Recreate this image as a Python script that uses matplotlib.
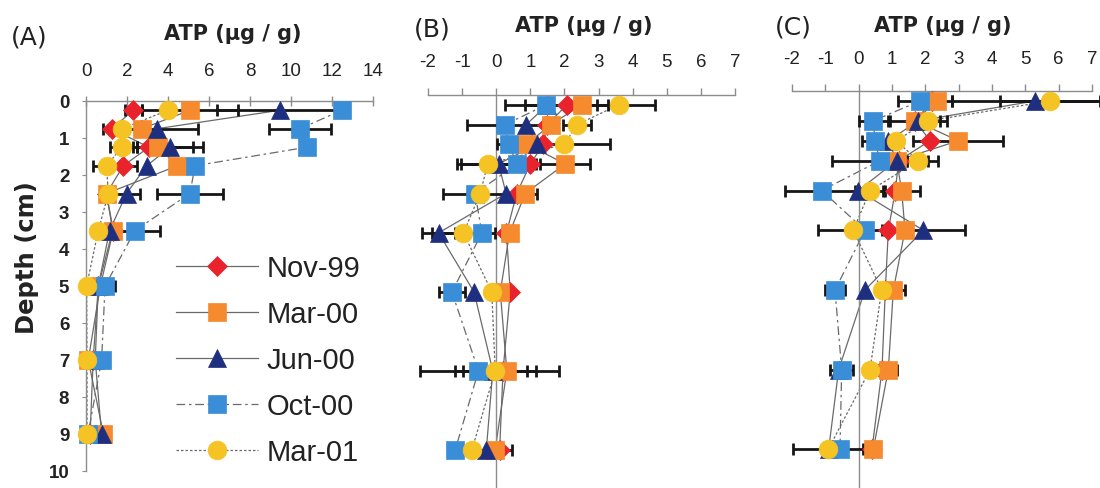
import matplotlib
matplotlib.use("Agg")
import matplotlib.pyplot as plt
from matplotlib.lines import Line2D

plt.rcParams["font.family"] = ["Liberation Sans", "DejaVu Sans"]
plt.rcParams["axes.unicode_minus"] = False

# Sampling depths (cm) of the sediment slices
depth = [0.25, 0.75, 1.25, 1.75, 2.5, 3.5, 5, 7, 9]
series = ["Nov-99", "Mar-00", "Jun-00", "Oct-00", "Mar-01"]

# Panel A: ATP (ug/g)
a_nov99 = [2.31, 1.25, 3.07, 1.82, 1.0, 1.3, 0.6, 0.35, 0.2]
a_mar00 = [5.07, 2.72, 3.53, 4.46, 1.0, 1.33, 0.7, 0.11, 0.85]
a_jun00 = [9.46, 3.45, 4.10, 2.96, 1.98, 1.15, 0.6, 0.45, 0.76]
a_oct00 = [12.47, 10.44, 10.76, 5.32, 5.07, 2.39, 0.93, 0.76, 0.10]
a_mar01 = [4.00, 1.74, 1.74, 1.00, 1.09, 0.60, 0.03, 0.05, 0.05]
a_err_nov99 = [0.4, 0.4, 0.6, 0.65, 0, 0, 0, 0, 0]
a_err_mar00 = [2.33, 0, 1.7, 0, 0, 0, 0, 0.3, 0]
a_err_jun00 = [3.06, 2.0, 1.6, 0, 0.65, 0, 0, 0, 0]
a_err_oct00 = [0, 1.5, 0, 0, 1.6, 1.2, 0.47, 0, 0]
a_err_mar01 = [0, 0, 0.57, 0.64, 0, 0.32, 0, 0, 0]

# Panel B
b_nov99 = [2.07, 1.5, 1.38, 1.0, 0.6, 0.3, 0.41, 0.2, 0.1]
b_mar00 = [2.51, 1.60, 0.90, 2.02, 0.85, 0.39, 0.12, 0.31, -0.03]
b_jun00 = [1.5, 0.88, 1.19, 0.07, 0.29, -1.69, -0.65, -0.1, -0.29]
b_oct00 = [1.47, 0.26, 0.36, 0.61, -0.62, -0.42, -1.30, -0.52, -1.20]
b_mar01 = [3.59, 2.37, 2.00, -0.25, -0.47, -0.96, -0.13, -0.03, -0.71]
b_err_nov99 = [1.22, 0, 0, 0, 0, 0, 0, 0, 0]
b_err_mar00 = [0.44, 0, 0, 0.74, 0.34, 0, 0, 1.52, 0.49]
b_err_jun00 = [0, 0, 0, 1.1, 0, 0.49, 0, 0, 0]
b_err_oct00 = [1.2, 1.12, 0.34, 0, 0, 0, 0.39, 1.7, 0]
b_err_mar01 = [1.07, 0.4, 1.35, 0.9, 1.1, 0.93, 0, 0.93, 0]

# Panel C
c_nov99 = [2.2, 1.7, 2.14, 1.2, 1.1, 0.89, 0.8, 0.7, 0.4]
c_mar00 = [2.34, 1.69, 2.99, 1.14, 1.29, 1.39, 1.04, 0.89, 0.44]
c_jun00 = [5.29, 1.79, 0.89, 1.14, -0.01, 1.94, 0.19, -0.6, -0.9]
c_oct00 = [1.84, 0.44, 0.49, 0.64, -1.11, 0.19, -0.71, -0.51, -0.56]
c_mar01 = [5.74, 2.09, 1.12, 1.79, 0.34, -0.16, 0.69, 0.34, -0.91]
c_err_nov99 = [0, 0, 0, 0, 0, 0, 0, 0, 0]
c_err_mar00 = [0.45, 0.75, 1.35, 0, 0.55, 0, 0.35, 0.25, 0]
c_err_jun00 = [2.5, 0, 0, 0.3, 0, 1.25, 0, 0, 0]
c_err_oct00 = [0.65, 0.44, 0.4, 1.45, 1.1, 0, 0.3, 0.35, 0]
c_err_mar01 = [1.5, 0.55, 0, 0.6, 0.45, 1.05, 0, 0, 1.05]

a_xticks = [0, 2, 4, 6, 8, 10, 12, 14]
bc_xticks = [-2, -1, 0, 1, 2, 3, 4, 5, 6, 7]
a_yticks = [0, 1, 2, 3, 4, 5, 6, 7, 8, 9, 10]

colors = ["#e8232b", "#f68a2e", "#1f2f80", "#3a8ed8", "#f6c325"]
markers = ["D", "s", "^", "s", "o"]
msizes = [10.5, 12.5, 13.5, 12.5, 13.5]
styles = ["-", "-", "-", (0, (7, 3, 2, 3)), (0, (2, 1.6))]
line_color = "#6a6a6a"
axis_color = "#8c8c8c"
text_color = "#222222"
wide_font = ["DejaVu Sans"]

W, H = 1100, 489
fig = plt.figure(figsize=(W / 100, H / 100), dpi=100)


def px_axes(left, right, top, bottom):
    return fig.add_axes([left / W, 1 - bottom / H, (right - left) / W, (bottom - top) / H])


def draw_panel(ax, values, errors, xlim, ymax, xticks):
    ax.set_xlim(*xlim)
    ax.set_ylim(ymax, 0)
    ax.patch.set_alpha(0)
    for s in ("right", "bottom"):
        ax.spines[s].set_visible(False)
    ax.spines["top"].set_color(axis_color)
    ax.spines["top"].set_linewidth(1.0)
    ax.spines["left"].set_position(("data", 0))
    ax.spines["left"].set_color(axis_color)
    ax.spines["left"].set_linewidth(1.0)
    ax.xaxis.tick_top()
    ax.set_xticks(xticks)
    ax.tick_params(axis="x", colors=axis_color, labelcolor=text_color,
                   labelsize=13.5, width=1.0)
    for i, vals in enumerate(values):
        ax.plot(vals, depth, color=line_color, lw=0.9, ls=styles[i], zorder=2)
    for i, (vals, errs) in enumerate(zip(values, errors)):
        pts = [(v, d, e) for v, d, e in zip(vals, depth, errs) if e > 0]
        if pts:
            xv, yv, ev = zip(*pts)
            ax.errorbar(xv, yv, xerr=ev, fmt="none", ecolor="#161616",
                        elinewidth=2.0, capsize=4.3, capthick=2.0,
                        zorder=3, clip_on=False)
    for i, vals in enumerate(values):
        ax.plot(vals, depth, ls="none", marker=markers[i], ms=msizes[i],
                mfc=colors[i], mec=colors[i], mew=0.5, zorder=4 + i,
                clip_on=False)


# (A)
ax_a = px_axes(86, 373, 102, 472)
draw_panel(ax_a, [a_nov99, a_mar00, a_jun00, a_oct00, a_mar01],
           [a_err_nov99, a_err_mar00, a_err_jun00, a_err_oct00, a_err_mar01],
           (0, 14), 10, a_xticks)
ax_a.tick_params(axis="x", direction="inout", length=7, pad=12)
ax_a.set_yticks(a_yticks)
ax_a.tick_params(axis="y", direction="out", length=3, colors=axis_color,
                 labelcolor=text_color, labelsize=13.5, pad=9)
for lab in ax_a.get_yticklabels():
    lab.set_fontweight("bold")

# (B)
ax_b = px_axes(428, 735, 96, 489)
draw_panel(ax_b, [b_nov99, b_mar00, b_jun00, b_oct00, b_mar01],
           [b_err_nov99, b_err_mar00, b_err_jun00, b_err_oct00, b_err_mar01],
           (-2, 7), (489 - 96) / 39.4, bc_xticks)
ax_b.tick_params(axis="x", direction="out", length=5, pad=13)
ax_b.set_yticks([])

# (C)
ax_c = px_axes(792, 1092, 92, 489)
draw_panel(ax_c, [c_nov99, c_mar00, c_jun00, c_oct00, c_mar01],
           [c_err_nov99, c_err_mar00, c_err_jun00, c_err_oct00, c_err_mar01],
           (-2, 7), (489 - 92) / 39.8, bc_xticks)
ax_c.tick_params(axis="x", direction="out", length=5, pad=12)
ax_c.set_yticks([])

# Axis titles and panel letters
title = "ATP (\u00b5g / g)"
for x, y in ((233, 40), (584, 32), (943, 32)):
    fig.text(x / W, 1 - y / H, title, ha="center", va="baseline",
             fontsize=15, fontweight="bold", color=text_color,
             family=wide_font)
for x, y, lab in ((11, 45, "(A)"), (414, 36, "(B)"), (775, 35, "(C)")):
    fig.text(x / W, 1 - y / H, lab, ha="left", va="baseline",
             fontsize=18, color=text_color, family=wide_font)
fig.text(27 / W, 1 - 258 / H, "Depth (cm)", rotation=90, ha="center",
         va="center", fontsize=17.5, fontweight="bold", color=text_color,
         family=wide_font)

# Legend
handles = [Line2D([], [], color=line_color, lw=0.9, ls=styles[i],
                  marker=markers[i], ms=msizes[i], mfc=colors[i],
                  mec=colors[i], mew=0.5)
           for i in range(len(series))]
fig.legend(handles, series, loc="upper left",
           bbox_to_anchor=(176 / W, 1 - 255 / H), frameon=False,
           fontsize=21, handlelength=2.8, handletextpad=0.3,
           labelspacing=0.62, borderpad=0, borderaxespad=0,
           labelcolor=text_color)

fig.savefig("out.png", dpi=100)
